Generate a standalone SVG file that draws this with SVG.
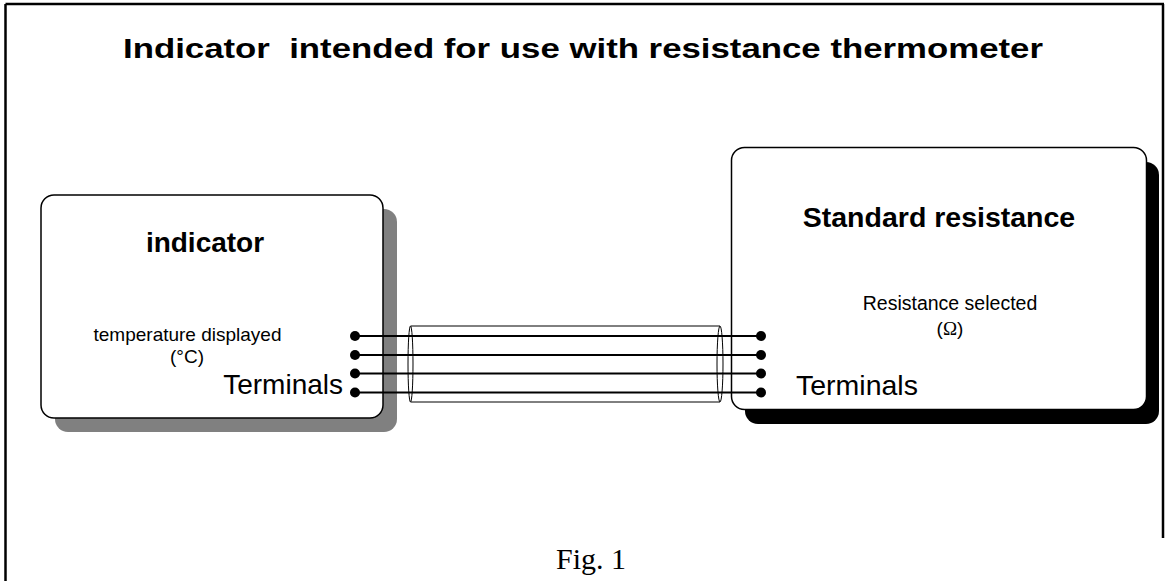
<svg xmlns="http://www.w3.org/2000/svg" width="1166" height="581" viewBox="0 0 1166 581">
<style>
.frame{stroke:#000;stroke-width:2.5;fill:none}
.box{fill:#fff;stroke:#000;stroke-width:1.5}
.sans{font-family:"Liberation Sans",Arial,sans-serif;fill:#000}
.bold{font-weight:bold}
.wire{stroke:#000;stroke-width:2}
.cable{fill:none;stroke:#000;stroke-width:1}
</style>
<rect width="1166" height="581" fill="#fff"/>
<g id="frame">
<line class="frame" x1="5.5" y1="4" x2="1164" y2="4"/>
<line class="frame" x1="5.5" y1="4" x2="5.5" y2="581"/>
<line class="frame" x1="1163" y1="4" x2="1163" y2="538"/>
</g>
<text class="sans bold" x="583" y="58" font-size="27" text-anchor="middle" textLength="920" lengthAdjust="spacingAndGlyphs">Indicator&#160; intended for use with resistance thermometer</text>
<g id="indicator">
<rect x="55" y="209" width="342" height="223" rx="13" fill="#808080"/>
<rect class="box" x="41" y="195" width="342" height="223" rx="13"/>
<text class="sans bold" x="205" y="252" font-size="28" text-anchor="middle">indicator</text>
<text class="sans" x="187.5" y="341" font-size="19" text-anchor="middle">temperature displayed</text>
<text class="sans" x="187" y="363" font-size="19" text-anchor="middle">(°C)</text>
<text class="sans" x="343" y="394" font-size="28" text-anchor="end">Terminals</text>
</g>
<g id="standard-resistance">
<rect x="745" y="162" width="414" height="262" rx="13" fill="#000"/>
<rect class="box" x="731.5" y="147.5" width="415" height="262" rx="13"/>
<text class="sans bold" x="939" y="227" font-size="28.5" text-anchor="middle">Standard resistance</text>
<text class="sans" x="950" y="310" font-size="19.5" text-anchor="middle">Resistance selected</text>
<text class="sans" x="950" y="335" font-size="19" text-anchor="middle">(<tspan font-family="'Liberation Serif',serif">Ω</tspan>)</text>
<text class="sans" x="796" y="395" font-size="28.5">Terminals</text>
</g>
<g id="connectors">
<g id="cable">
<path class="cable" d="M410.5 326 H720 M410.5 402 H720"/>
<ellipse class="cable" cx="410.5" cy="364" rx="2.5" ry="38"/>
<ellipse class="cable" cx="720" cy="364" rx="3" ry="38"/>
</g>
<line class="wire" x1="355" y1="336" x2="761" y2="336"/>
<line class="wire" x1="355" y1="355" x2="761" y2="355"/>
<line class="wire" x1="355" y1="373.5" x2="761" y2="373.5"/>
<line class="wire" x1="355" y1="392.5" x2="761" y2="392.5"/>
<g fill="#000">
<circle cx="355" cy="336" r="5"/>
<circle cx="355" cy="355" r="5"/>
<circle cx="355" cy="373.5" r="5"/>
<circle cx="355" cy="392.5" r="5"/>
<circle cx="761" cy="336" r="5"/>
<circle cx="761" cy="355" r="5"/>
<circle cx="761" cy="373.5" r="5"/>
<circle cx="761" cy="392.5" r="5"/>
</g>
</g>
<text x="591" y="569" font-family="'Liberation Serif','Times New Roman',serif" font-size="30" text-anchor="middle">Fig. 1</text>
</svg>
